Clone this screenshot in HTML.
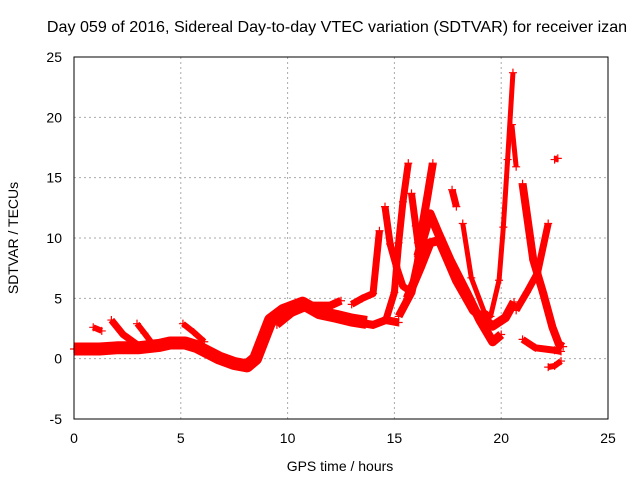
<!DOCTYPE html>
<html><head><meta charset="utf-8"><style>
body{margin:0;background:#fff}
text{font-family:"Liberation Sans",sans-serif;font-size:14px;fill:#000}
#chart .title{font-size:16.1px}
</style></head><body>
<svg id="chart" width="640" height="480">
<rect width="640" height="480" fill="#fff"/>
<text class="title" x="337" y="32" text-anchor="middle">Day 059 of 2016, Sidereal Day-to-day VTEC variation (SDTVAR) for receiver izan</text>
<text x="340" y="471" text-anchor="middle">GPS time / hours</text>
<text x="0" y="0" text-anchor="middle" transform="translate(18,238) rotate(-90)">SDTVAR / TECUs</text>
<g id="grid"></g><g id="marks"></g>
<rect x="74" y="57" width="534" height="362" fill="none" stroke="#000"/>
</svg>
<script>
const xTicks=[0,5,10,15,20,25];
const yTicks=[-5,0,5,10,15,20,25];
const trackMain=[[0,0.8],[0.6,0.8],[1.2,0.8],[2,0.9],[3,0.9],[4,1.1],[4.5,1.3],[5.2,1.3],[5.75,1],[6.8,0.05],[7.5,-0.4],[8.1,-0.6],[8.5,0],[9.2,3.2],[9.8,4],[10.7,4.6],[11.5,3.8],[12.3,3.5],[13,3.2],[13.7,3]];
const trackB1=[[1.75,3.2],[2.3,2],[3,1.1]];
const trackB2=[[2.95,2.9],[3.3,2.1],[3.6,1.4]];
const trackB3=[[5.1,2.9],[5.6,2.2],[6.1,1.4]];
const trackB4=[[0.9,2.6],[1.3,2.3]];
const trackB5=[[13,4.5],[13.5,5],[14,5.4],[14.3,10.6]];
const trackB6=[[9.5,2.8],[10.2,3.8],[11,4.4],[12,4.4],[12.5,4.8]];
const trackB7=[[13.3,3],[14,2.8],[14.6,3.2],[15.2,3]];
const trackC=[[14.6,3.2],[15,5.5],[15.2,9.6],[15.4,13],[15.65,16.2]];
const trackC2=[[14.56,12.6],[14.8,9.5],[15.1,7.6],[15.4,6],[15.8,5.5]];
const trackC3=[[15.8,13.7],[16,11],[16.1,9.6],[16.2,8.5]];
const trackD=[[15.2,3.5],[15.8,5.5],[16.1,8],[16.3,10.9],[16.55,13.5],[16.8,16.2]];
const trackE=[[16.1,8.5],[16.67,12],[17.05,10.4],[17.6,8.2],[18.4,5.4],[19,3.2],[19.6,1.4],[20,2]];
const trackE2=[[15.6,5],[16.2,7.5],[16.67,9.6],[17.1,9.8],[17.9,6.5],[18.7,4],[19.6,2.7],[20.2,3.4],[20.6,4.7]];
const trackF0=[[17.7,14],[17.9,12.6]];
const trackF=[[18.2,11.2],[18.6,6.7],[19.2,3.9],[19.5,3.5],[19.9,6.5],[20.1,10.9],[20.3,16.5],[20.55,23.7]];
const trackF2=[[20.5,19.4],[20.7,15.9]];
const trackG=[[21,14.5],[21.5,8.2],[21.97,5.4],[22.4,2.6],[22.7,1.2],[22.9,1]];
const trackG2=[[20.7,4],[21.2,5.5],[21.7,7.1],[22.2,11.2]];
const trackH=[[21,1.6],[21.6,0.9],[22.5,0.7],[22.8,0.6]];
const trackI=[[22.2,-0.7],[22.5,-0.6],[22.8,-0.2]];
const trackJ=[[22.5,16.5],[22.65,16.6]];
const tracks=[trackMain,trackB1,trackB2,trackB3,trackB4,trackB5,trackB6,trackB7,trackC,trackC2,trackC3,trackD,trackE,trackE2,trackF0,trackF,trackF2,trackG,trackG2,trackH,trackI,trackJ];
const widths=[13,7,6,6,6,7,8,8,7,7,7,8,9,9,7,5,5,8,7,7,6,6];
const X=v=>74+(v/25)*534, Y=v=>419-((v+5)/30)*362;
const NS="http://www.w3.org/2000/svg";
const g=document.getElementById('grid'), m=document.getElementById('marks');
function mk(t,a,p){const e=document.createElementNS(NS,t);for(const k in a)e.setAttribute(k,a[k]);p.appendChild(e);return e;}
xTicks.forEach(v=>{
 if(v>0&&v<25){const l=mk('line',{x1:X(v),x2:X(v),y1:57,y2:419,stroke:'#aaa','stroke-dasharray':'2,3'},g);
 
 }
 const t=mk('text',{x:X(v),y:443,'text-anchor':'middle'},g);t.textContent=v;
 
 
});
yTicks.forEach(v=>{
 if(v>-5&&v<25){const l=mk('line',{x1:74,x2:608,y1:Y(v),y2:Y(v),stroke:'#aaa','stroke-dasharray':'2,3'},g);
 
 }
 const t=mk('text',{x:62,y:Y(v)+5,'text-anchor':'end'},g);t.textContent=v;
 
 
});
tracks.forEach((tr,i)=>{
 const pl=mk('polyline',{points:tr.map(p=>X(p[0])+','+Y(p[1])).join(' '),fill:'none',stroke:'#f00','stroke-width':widths[i],'stroke-linejoin':'round','stroke-linecap':'butt'},m);
 
 
 tr.forEach(p=>{
  const c=mk('path',{d:`M${X(p[0])-4},${Y(p[1])}h8M${X(p[0])},${Y(p[1])-4}v8`,stroke:'#f00','stroke-width':1.2},m);
  
  
 });
});
</script>
</body></html>
